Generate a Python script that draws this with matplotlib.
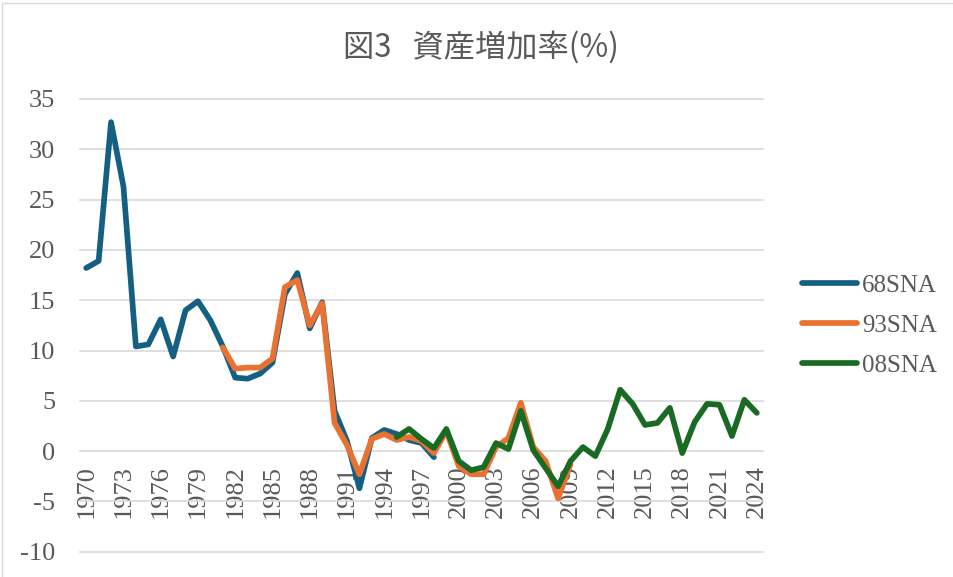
import numpy as np
import matplotlib
matplotlib.use("Agg")
import matplotlib.pyplot as plt
from matplotlib.patches import Rectangle

plt.rcParams["axes.unicode_minus"] = False

# 年次
years = list(range(1970, 2025))

# 68SNA (1970-1998)
years_68 = list(range(1970, 1999))
sna68 = [18.2, 18.9, 32.7, 26.3, 10.4, 10.6, 13.1, 9.4, 14.0, 14.9,
         13.0, 10.4, 7.3, 7.2, 7.7, 8.8, 15.6, 17.7, 12.2, 14.8,
         4.0, 1.0, -3.7, 1.3, 2.1, 1.7, 1.1, 0.8, -0.6]

# 93SNA (1981-2009)
years_93 = list(range(1981, 2010))
sna93 = [10.3, 8.2, 8.3, 8.3, 9.2, 16.3, 17.0, 12.5, 14.7,
         2.8, 0.6, -2.3, 1.2, 1.7, 1.1, 1.4, 1.0, -0.2, 2.0,
         -1.5, -2.3, -2.3, 0.4, 1.3, 4.8, 0.4, -1.0, -4.7, -1.3]

# 08SNA (1995-2024)
years_08 = list(range(1995, 2025))
sna08 = [1.4, 2.2, 1.2, 0.3, 2.2,
         -1.0, -1.9, -1.6, 0.8, 0.2, 4.0, 0.1, -1.7, -3.5, -1.0,
         0.4, -0.5, 2.2, 6.1, 4.7, 2.6, 2.8, 4.3, -0.2, 2.9,
         4.7, 4.6, 1.5, 5.1, 3.8]

xtick_years = years[::3]
yticks = list(range(-10, 40, 5))

gray = "#595959"
serif = ["Liberation Serif", "DejaVu Serif"]

fig = plt.figure(figsize=(9.54, 5.77), dpi=100)
fig.patches.append(Rectangle((2 / 954, -0.1), 1.1, 1 - 3 / 577 + 0.1,
                             transform=fig.transFigure, fill=False,
                             edgecolor="#d9d9d9", linewidth=1.0))

ax = fig.add_axes([80 / 954, 1 - 551.7 / 577, (763 - 80) / 954, (551.7 - 99) / 577])

line_kw = dict(linewidth=4.1, solid_joinstyle="round", solid_capstyle="round")
ax.plot(years_68, sna68, color="#156082", label="68SNA", **line_kw)
ax.plot(years_93, sna93, color="#E97132", label="93SNA", **line_kw)
ax.plot(years_08, sna08, color="#196B24", label="08SNA", **line_kw)

ax.set_xlim(1969.5, 2024.5)
ax.set_ylim(-10, 35)
ax.set_yticks(yticks)
ax.set_xticks(xtick_years)
ax.set_xticklabels([str(y) for y in xtick_years])
ax.yaxis.grid(True, color="#d9d9d9", linewidth=1.2)
for gl in ax.yaxis.get_gridlines():
    gl.set_clip_on(False)
ax.set_axisbelow(True)

for s in ax.spines.values():
    s.set_visible(False)
ax.spines["bottom"].set_position(("data", 0))
ax.tick_params(axis="both", length=0, colors=gray, labelsize=19)
ax.tick_params(axis="x", pad=10, labelrotation=90)
ax.tick_params(axis="y", pad=18)
for lab in ax.get_xticklabels() + ax.get_yticklabels():
    lab.set_family(serif)
    lab.set_color(gray)

leg = ax.legend(loc="center left", bbox_to_anchor=(802 / 954, 1 - 325.7 / 577),
                bbox_transform=fig.transFigure, frameon=False, borderpad=0,
                borderaxespad=0, handlelength=2.2, handletextpad=0.2,
                labelspacing=0.7, prop={"family": serif, "size": 18})
for t in leg.get_texts():
    t.set_color(gray)

fig.text(481 / 954, 1 - 47 / 577, "図3   資産増加率(%)", ha="center", va="center",
         fontsize=22.5, color=gray, family=["Noto Sans CJK JP", "DejaVu Sans"])

fig.savefig("out.png", dpi=100)
